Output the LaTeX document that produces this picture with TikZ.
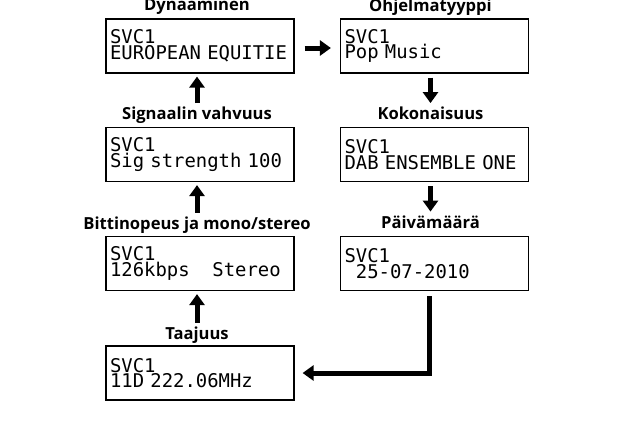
\documentclass[tikz,border=0pt]{standalone}
\usepackage{fontspec}
\setmonofont{DejaVu Sans Mono}
\newfontfamily\lblfont{Open Sans}
\usetikzlibrary{arrows.meta,calc}
\begin{document}
\begin{tikzpicture}[x=1pt,y=-1pt,
  lcd/.style={draw,line width=1.2pt,minimum width=188pt,minimum height=54pt,
    inner xsep=4pt,inner ysep=0pt,text width=180pt,align=left,
    font=\fontsize{18.9pt}{15.7pt}\selectfont\ttfamily},
  lbl/.style={font=\fontsize{16.6pt}{17pt}\selectfont\lblfont\bfseries,inner sep=0pt,anchor=base},
  arr/.style={line width=5pt,-{Triangle[width=15pt,length=11pt]}}]
\useasboundingbox (0,0) rectangle (617,432);
% left column
\node[lcd] (dyn) at (200,46) {SVC1\\EUROPEAN EQUITIE};
\node[lcd] (sig) at (200,154.5) {SVC1\\Sig strength 100};
\node[lcd] (bit) at (200,263.5) {SVC1\\126kbps\phantom{00}Stereo};
\node[lcd] (frq) at (200,373) {SVC1\\11D 222.06MHz};
% right column
\node[lcd] (pty) at (434.5,46) {SVC1\\Pop Music};
\node[lcd] (ens) at (434.5,154.5) {SVC1\\DAB ENSEMBLE ONE};
\node[lcd] (dat) at (434.5,263.5) {SVC1\\\phantom{0}25-07-2010};
% labels
\node[lbl] (ldyn) at ($(dyn.north)+(-3,-8)$) {Dynaaminen};
\node[lbl] (lsig) at ($(sig.north)+(-3,-7)$) {Signaalin vahvuus};
\node[lbl] (lbit) at ($(bit.north)+(-3,-6.5)$) {Bittinopeus ja mono/stereo};
\node[lbl] (lfrq) at ($(frq.north)+(-3,-6)$) {Taajuus};
\node[lbl] (lpty) at ($(pty.north)+(-4,-7)$) {Ohjelmatyyppi};
\node[lbl] (lens) at ($(ens.north)+(-4,-7)$) {Kokonaisuus};
\node[lbl] (ldat) at ($(dat.north)+(-4,-7.5)$) {Päivämäärä};
% connectors
\draw[arr,shorten <=4pt,shorten >=3pt] (lsig.north) -- (lsig.north |- dyn.south);
\draw[arr,shorten <=4pt,shorten >=3pt] (lbit.north) -- (lbit.north |- sig.south);
\draw[arr,shorten <=4pt,shorten >=3pt] (lfrq.north) -- (lfrq.north |- bit.south);
\draw[arr,shorten <=10pt,shorten >=9pt] ([yshift=-2pt]dyn.east) -- ([yshift=-2pt]pty.west);
\draw[arr,shorten <=4pt,shorten >=4pt] (lens.north |- pty.south) -- (lens.north);
\draw[arr,shorten <=4pt,shorten >=4pt] (ldat.north |- ens.south) -- (ldat.north);
\draw[arr,shorten <=5pt,shorten >=8pt] ([xshift=-5pt]dat.south) |- (frq.east);
\end{tikzpicture}
\end{document}
